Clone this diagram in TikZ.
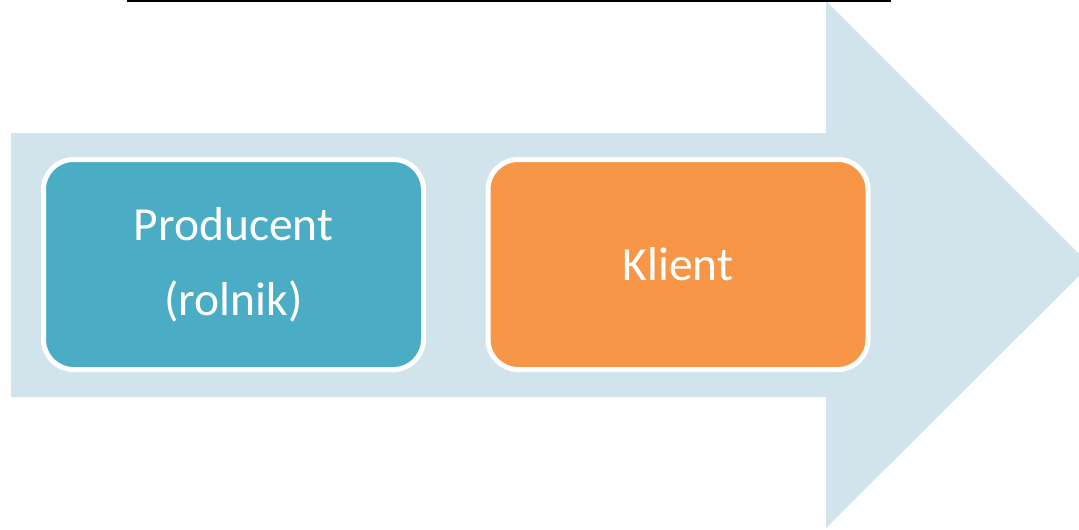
\documentclass[tikz,border=0pt]{standalone}
\usepackage{fontspec}
\setmainfont{Carlito}
\definecolor{arrowbg}{HTML}{D1E3EB}
\definecolor{boxblue}{HTML}{4BACC6}
\definecolor{boxorange}{HTML}{F79646}
\begin{document}
\begin{tikzpicture}[x=1pt,y=-1pt,
  stagebox/.style={draw=white, line width=5pt, rounded corners=30pt,
    minimum width=380pt, minimum height=210pt, inner sep=0pt,
    text=white, align=center, font=\fontsize{47.5}{75}\selectfont}]
\useasboundingbox (0,0) rectangle (1079,530);
\clip (0,0) rectangle (1079,530);
\fill[arrowbg] (11,133) -- (826,133) -- (826,1) -- (1090,265) -- (826,528) -- (826,397) -- (11,397) -- cycle;
\coordinate (la) at (127,1);
\coordinate (lb) at (891,1);
\draw[line width=1.5pt] (la) -- (lb);
\node[stagebox, fill=boxblue] (prod) at (233.5,264.5) {Producent\\(rolnik)};
\node[stagebox, fill=boxorange] (klient) at (678,264.5) {Klient};
\end{tikzpicture}
\end{document}
